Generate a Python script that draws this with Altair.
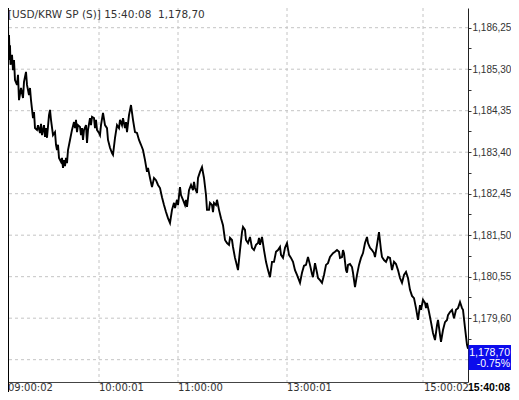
import altair as alt
import pandas as pd

# ---- data ----
ticks = [8, 8.5, 9, 9.5, 10, 10.5, 12, 13, 14, 15, 17, 18, 19, 21, 23, 24, 26, 27, 29, 30, 31, 33, 34, 35,
         37, 38, 40, 41, 42, 44, 45, 46, 47, 49, 50, 51, 53, 55, 56, 57, 58, 59, 61, 62, 63, 64, 65, 66, 67, 68,
         70, 72, 74, 75, 76, 77, 78, 80, 81, 82, 83, 84, 86, 87, 88, 90, 91, 92, 94, 95, 96, 97, 99, 100, 101,
         103, 105, 107, 108, 110, 112, 113, 115, 117, 119, 120, 122, 123, 125, 126, 127, 129, 131, 133, 135,
         137, 139, 141, 143, 145, 147, 148, 150, 152, 154, 156, 158, 160, 162, 164, 166, 168, 170, 172, 174,
         175, 177, 178, 180, 181, 183, 185, 186, 187, 189, 191, 193, 194, 195, 197, 198, 200, 202,
         204, 206, 207, 209, 210, 212, 213, 214, 216, 217, 219, 221, 223, 225, 227, 229, 230, 232, 233, 235,
         236, 238, 240, 242, 243, 245, 246, 248, 250, 252, 254, 256, 258, 259, 260,
         262, 264, 266, 268, 270, 272, 274, 276, 278, 280, 281, 283, 285, 287, 289, 291, 293, 295, 297, 299,
         300, 302, 304, 306, 308, 310, 312, 313, 315, 317, 318, 320, 322, 324, 326, 328, 330, 333, 335, 337,
         339, 340, 342, 343, 344, 346, 347, 348, 350, 352, 353, 355, 357, 359, 361, 363, 365, 367, 368, 370,
         372, 374, 375, 377, 379, 381, 382, 384, 386, 388, 390, 392, 394, 396, 398, 400,
         402, 404, 406, 408, 410, 412, 414, 416, 418, 420, 421, 423, 425, 426, 427, 429, 431, 433, 435, 437,
         438, 440, 441, 443, 445, 447, 448, 450, 452, 454, 456, 458, 460, 462, 463, 465, 467, 468]

prices = [1186.38, 1185.51, 1186.08, 1185.63, 1185.85, 1185.40, 1185.63, 1185.28, 1185.51, 1185.05,
          1184.94, 1185.17, 1184.59, 1184.87, 1184.64, 1185.01, 1185.24, 1184.94, 1184.71, 1184.87,
          1184.59, 1184.18, 1184.32, 1183.95,
          1183.91, 1184.02, 1183.84, 1184.05, 1183.79, 1184.02, 1183.75, 1183.95, 1183.73, 1184.25,
          1184.37, 1184.14, 1183.79, 1183.86, 1183.57, 1183.45, 1183.57, 1183.27, 1183.18, 1183.27,
          1183.04, 1183.22, 1183.08, 1183.27, 1183.15, 1183.45,
          1183.68, 1183.91, 1184.09, 1183.95, 1184.14, 1183.86, 1184.02, 1183.98, 1183.79, 1183.95,
          1183.68, 1183.91, 1184.02, 1183.61, 1183.91, 1184.18, 1184.02, 1184.21, 1184.18, 1183.95,
          1184.14, 1183.91, 1183.84, 1183.79, 1184.02,
          1184.30, 1184.02, 1183.95, 1183.68, 1183.50, 1183.38, 1183.34, 1183.73, 1184.02, 1183.95,
          1184.14, 1184.02, 1184.18, 1183.95, 1184.09, 1183.86, 1184.25, 1184.48, 1184.14, 1183.86,
          1183.84, 1183.68, 1183.57, 1183.45, 1183.22, 1182.95, 1183.04, 1182.81, 1182.60, 1182.81,
          1182.76, 1182.65, 1182.58, 1182.37, 1182.19, 1182.03, 1181.89, 1181.78, 1182.08, 1182.24,
          1182.12, 1182.31, 1182.19, 1182.60, 1182.42, 1182.31, 1182.19, 1182.31, 1182.15, 1182.53,
          1182.65, 1182.53, 1182.72, 1182.58, 1182.47, 1182.81, 1182.95, 1183.06,
          1182.81, 1182.42, 1182.08, 1182.08, 1182.24, 1182.19, 1182.03, 1182.24, 1182.19, 1182.31,
          1182.08, 1181.89, 1181.73, 1181.39, 1181.32, 1181.28, 1181.44, 1181.39, 1181.23, 1180.98,
          1180.89, 1180.70, 1181.16, 1181.57, 1181.69, 1181.62, 1181.39, 1181.32, 1181.46, 1181.21,
          1181.16, 1181.28, 1181.32, 1181.44, 1181.28,
          1181.46, 1181.16, 1180.89, 1180.70, 1180.54, 1180.89, 1180.89, 1181.12, 1181.16, 1181.23,
          1181.05, 1180.98, 1181.21, 1181.32, 1181.05, 1180.98, 1180.89, 1180.70, 1180.59, 1180.47,
          1180.41, 1180.64, 1180.80, 1180.82, 1181.00, 1180.82, 1180.61, 1180.54, 1180.86, 1180.64,
          1180.52, 1180.47, 1180.41, 1180.59, 1180.82, 1180.86, 1181.00, 1181.09, 1181.12, 1181.16,
          1181.12, 1180.98, 1181.00, 1181.16, 1181.09, 1180.70, 1180.64, 1180.82, 1180.84, 1180.77,
          1180.64, 1180.31, 1180.59, 1180.82, 1180.98, 1181.09, 1181.32, 1181.46, 1181.32, 1181.21,
          1181.16, 1181.09, 1181.00, 1181.28, 1181.57, 1181.16, 1181.00, 1180.93, 1180.89, 1181.00,
          1180.98, 1180.70, 1180.89, 1180.84, 1180.70, 1180.52,
          1180.41, 1180.59, 1180.66, 1180.52, 1180.25, 1180.11, 1180.06, 1179.83, 1179.56, 1179.90,
          1179.79, 1180.02, 1179.95, 1179.83, 1179.95, 1179.74, 1179.51, 1179.26, 1179.10, 1179.44,
          1179.56, 1179.22, 1179.06, 1179.33, 1179.51, 1179.56, 1179.67, 1179.74, 1179.79, 1179.60,
          1179.79, 1179.83, 1179.97, 1179.83, 1179.79, 1179.38, 1178.99, 1178.90]

major_levels = [1186.25, 1185.30, 1184.35, 1183.40, 1182.45, 1181.50, 1180.55, 1179.60]
grid_levels = major_levels + [1178.65]
minor_levels = [1185.775, 1184.825, 1183.875, 1182.925, 1181.975, 1181.025, 1180.075, 1179.125]

time_ticks = [8, 99, 178, 287, 424]
time_labels = ["09:00:02", "10:00:01", "11:00:00", "13:00:01", "15:00:02"]
grid_ticks = [99, 178, 287, 423]
last_tick = [468]
last_time = ["15:40:08"]

last_price = [1178.70]
last_price_text = ["1,178,70"]
last_change_text = ["-0.75%"]
title_text = ["[USD/KRW SP (S)] 15:40:08\u00a0\u00a01,178,70"]

# ---- styles ----
FONT = "DejaVu Sans"
NARROW = "Liberation Sans"
FS = 10.5
LABEL_COLOR = "#333333"
GRID_COLOR = "#c4c4c4"
BOX_BLUE = "#0c0cec"
BOX_HALF = 0.285
W, H = 460, 374
LABEL_Y = 383

df = pd.DataFrame({"tick": ticks, "price": prices})
x_scale = alt.Scale(domain=[8, 468], nice=False, zero=False)
y_scale = alt.Scale(domain=[1178.139, 1186.701], nice=False, zero=False)

major_str = ",".join(f"'{v:.2f}'" for v in major_levels)
label_expr = (f"indexof([{major_str}], format(datum.value, '.2f')) >= 0 ? "
              "replace(format(datum.value, ',.2f'), '.', ',') : ''")

x_axis = alt.Axis(orient="bottom", labels=False, ticks=False, grid=False,
                  domain=True, domainColor="#444444", title=None)
y_axis = alt.Axis(orient="right", values=major_levels + minor_levels,
                  labelExpr=label_expr, grid=False, domainColor="#222222",
                  tickColor="#333333", tickSize=3, labelPadding=1,
                  labelFont=NARROW, labelFontSize=10, labelColor=LABEL_COLOR,
                  labelOverlap=False, title=None)

hgrid = alt.Chart(pd.DataFrame({"level": grid_levels})).mark_rule(
    color=GRID_COLOR, strokeDash=[3, 3], strokeWidth=1
).encode(y=alt.Y("level:Q", scale=y_scale, axis=y_axis))

vgrid = alt.Chart(pd.DataFrame({"tick": grid_ticks})).mark_rule(
    color=GRID_COLOR, strokeDash=[3, 3], strokeWidth=1
).encode(x=alt.X("tick:Q", scale=x_scale, axis=x_axis))

line = alt.Chart(df).mark_line(color="black", strokeWidth=1.9, clip=True).encode(
    x=alt.X("tick:Q", scale=x_scale, axis=x_axis),
    y=alt.Y("price:Q", scale=y_scale, axis=y_axis),
)

time_text = alt.Chart(pd.DataFrame({"tick": time_ticks, "label": time_labels})).mark_text(
    align="left", baseline="alphabetic", font=FONT, fontSize=10, color=LABEL_COLOR
).encode(x=alt.X("tick:Q", scale=x_scale, axis=x_axis), y=alt.value(LABEL_Y), text="label:N")

last_text = alt.Chart(pd.DataFrame({"tick": last_tick, "label": last_time})).mark_text(
    align="left", baseline="alphabetic", font=NARROW, fontSize=10.5, fontWeight="bold", color="black"
).encode(x=alt.X("tick:Q", scale=x_scale, axis=x_axis), y=alt.value(LABEL_Y), text="label:N")

box_df = pd.DataFrame({"p": last_price, "t1": last_price_text, "t2": last_change_text})
box = alt.Chart(box_df).transform_calculate(
    top=f"datum.p + {BOX_HALF}", bot=f"datum.p - {BOX_HALF}"
).mark_rect(color=BOX_BLUE).encode(
    x=alt.value(W + 0.5), x2=alt.value(W + 45),
    y=alt.Y("top:Q", scale=y_scale, axis=y_axis), y2="bot:Q",
)
box_t1 = alt.Chart(box_df).mark_text(
    align="right", baseline="alphabetic", font=NARROW, fontSize=10.5, color="white", dy=-1.5
).encode(x=alt.value(W + 42), y=alt.Y("p:Q", scale=y_scale, axis=y_axis), text="t1:N")
box_t2 = alt.Chart(box_df).mark_text(
    align="right", baseline="alphabetic", font=NARROW, fontSize=10.5, color="white", dy=9.5
).encode(x=alt.value(W + 42), y=alt.Y("p:Q", scale=y_scale, axis=y_axis), text="t2:N")

title = alt.Chart(pd.DataFrame({"t": title_text})).mark_text(
    align="left", baseline="alphabetic", font=FONT, fontSize=FS, color=LABEL_COLOR
).encode(x=alt.value(0), y=alt.value(10), text="t:N")

left_border = alt.Chart(pd.DataFrame({"a": [0]})).mark_rule(color="black", strokeWidth=2).encode(
    x=alt.value(0), y=alt.value(0), y2=alt.value(H + 10))

chart = alt.layer(
    hgrid, vgrid, line, time_text, last_text, box, box_t1, box_t2, title, left_border
).properties(
    width=W, height=H,
    autosize=alt.AutoSizeParams(type="none"),
    padding={"left": 0, "top": 0, "right": 43, "bottom": 10},
).configure_view(stroke=None)

chart.save("out.html", embed_options={"renderer": "svg", "actions": False})
